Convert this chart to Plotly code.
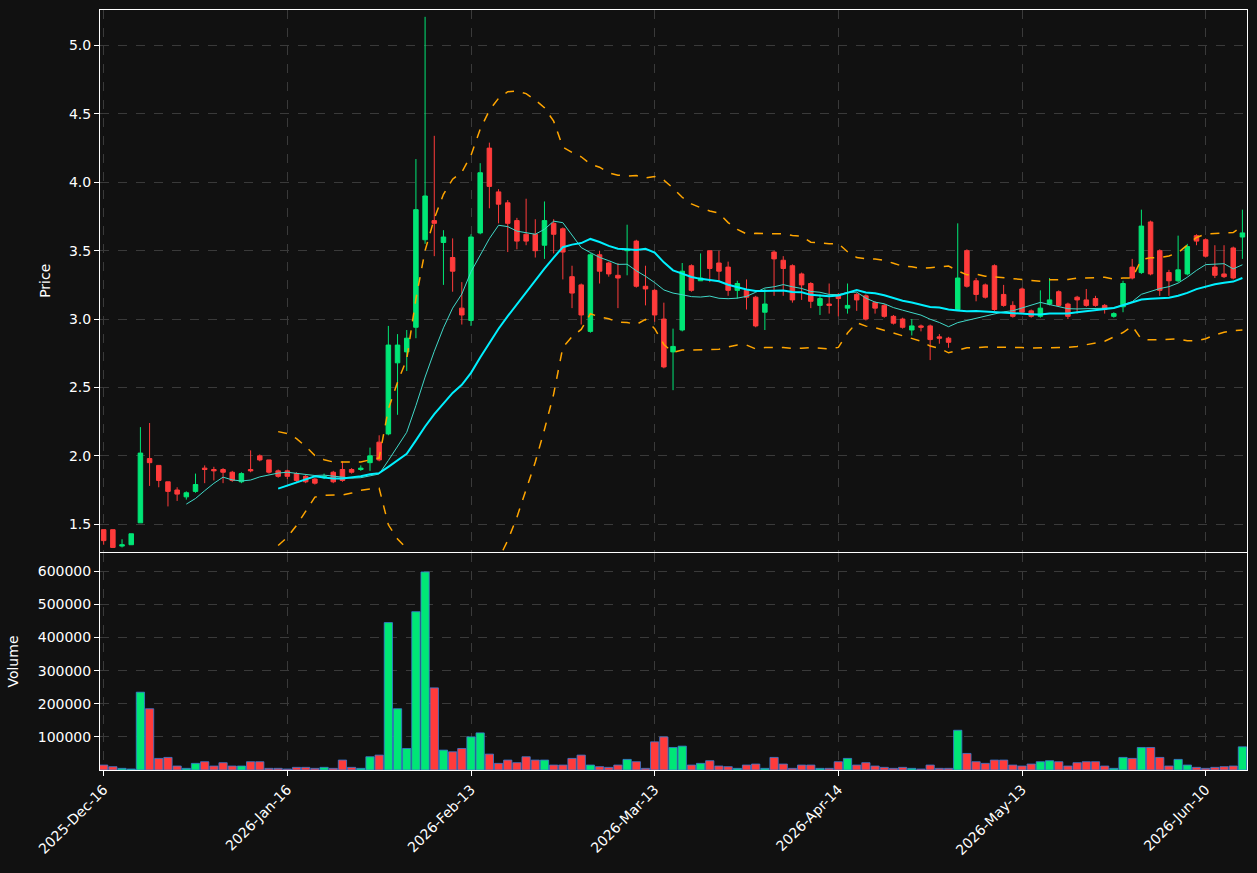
import plotly.graph_objects as go
from plotly.subplots import make_subplots
import pandas as pd

# OHLC per trading day
opens = [1.46, 1.46, 1.34, 1.35, 1.51, 1.98, 1.93, 1.81, 1.75, 1.70,
         1.74, 1.91, 1.90, 1.90, 1.88, 1.81, 1.90, 2.00, 1.97, 1.89,
         1.89, 1.87, 1.85, 1.83, 1.84, 1.88, 1.90, 1.90, 1.90, 1.95,
         2.10, 2.16, 2.68, 2.76, 2.94, 3.58, 3.72, 3.56, 3.45, 3.08,
         2.99, 3.63, 4.25, 3.93, 3.85, 3.72, 3.62, 3.62, 3.54, 3.70,
         3.66, 3.31, 3.25, 2.91, 3.47, 3.41, 3.32, 3.50, 3.57, 3.24,
         3.21, 3.00, 2.76, 2.92, 3.39, 3.28, 3.50, 3.41, 3.38, 3.21,
         3.21, 3.16, 3.05, 3.49, 3.43, 3.39, 3.33, 3.26, 3.10, 3.11,
         3.17, 3.08, 3.18, 3.17, 3.12, 3.10, 3.02, 3.00, 2.92, 2.95,
         2.95, 2.87, 2.86, 3.07, 3.50, 3.28, 3.25, 3.39, 3.18, 3.10,
         3.22, 3.06, 3.02, 3.11, 3.20, 3.11, 3.16, 3.14, 3.15, 3.10,
         3.02, 3.09, 3.38, 3.34, 3.71, 3.50, 3.34, 3.28, 3.33, 3.61,
         3.58, 3.38, 3.33, 3.52, 3.60]
closes = [1.38, 1.33, 1.35, 1.43, 2.02, 1.95, 1.82, 1.74, 1.72, 1.73,
          1.79, 1.90, 1.89, 1.88, 1.82, 1.87, 1.89, 1.97, 1.88, 1.85,
          1.85, 1.82, 1.81, 1.80, 1.85, 1.81, 1.82, 1.88, 1.91, 2.00,
          1.97, 2.81, 2.81, 2.86, 3.80, 3.90, 3.70, 3.60, 3.35, 3.03,
          3.60, 4.07, 3.97, 3.84, 3.70, 3.57, 3.57, 3.50, 3.72, 3.62,
          3.49, 3.19, 3.03, 3.47, 3.35, 3.33, 3.30, 3.51, 3.24, 3.22,
          3.03, 2.65, 2.80, 3.35, 3.21, 3.30, 3.37, 3.35, 3.21, 3.26,
          3.16, 2.95, 3.11, 3.44, 3.37, 3.14, 3.25, 3.13, 3.15, 3.10,
          3.15, 3.10, 3.14, 3.00, 3.08, 3.02, 2.97, 2.94, 2.95, 2.94,
          2.85, 2.86, 2.83, 3.30, 3.24, 3.18, 3.16, 3.07, 3.10, 3.02,
          3.05, 3.02, 3.08, 3.14, 3.10, 3.02, 3.14, 3.10, 3.10, 3.07,
          3.04, 3.26, 3.30, 3.68, 3.33, 3.21, 3.28, 3.36, 3.53, 3.57,
          3.46, 3.32, 3.31, 3.30, 3.63]
highs = [1.46, 1.46, 1.39, 1.43, 2.21, 2.24, 1.93, 1.81, 1.77, 1.74,
         1.87, 1.93, 1.92, 1.91, 1.89, 1.88, 2.04, 2.01, 1.97, 1.90,
         1.90, 1.88, 1.86, 1.84, 1.87, 1.89, 1.96, 1.91, 1.93, 2.06,
         2.15, 2.95, 2.89, 2.92, 4.17, 5.21, 4.34, 3.65, 3.59, 3.27,
         3.62, 4.14, 4.29, 3.95, 3.87, 3.74, 3.88, 3.73, 3.86, 3.73,
         3.67, 3.39, 3.26, 3.48, 3.50, 3.42, 3.41, 3.69, 3.58, 3.39,
         3.22, 3.12, 2.93, 3.41, 3.40, 3.48, 3.50, 3.50, 3.42, 3.28,
         3.29, 3.17, 3.22, 3.50, 3.46, 3.40, 3.34, 3.27, 3.18, 3.26,
         3.19, 3.26, 3.19, 3.18, 3.13, 3.11, 3.03, 3.01, 3.00, 2.96,
         2.96, 2.89, 2.87, 3.70, 3.51, 3.30, 3.26, 3.40, 3.25, 3.13,
         3.23, 3.07, 3.21, 3.30, 3.21, 3.12, 3.17, 3.22, 3.17, 3.11,
         3.05, 3.28, 3.44, 3.80, 3.72, 3.51, 3.36, 3.61, 3.55, 3.62,
         3.59, 3.54, 3.54, 3.53, 3.80]
lows = [1.35, 1.33, 1.33, 1.35, 1.51, 1.78, 1.77, 1.63, 1.67, 1.68,
        1.73, 1.80, 1.82, 1.80, 1.81, 1.80, 1.88, 1.96, 1.87, 1.84,
        1.83, 1.81, 1.80, 1.79, 1.83, 1.80, 1.81, 1.87, 1.89, 1.89,
        1.96, 2.15, 2.30, 2.62, 2.86, 3.55, 3.46, 3.25, 3.20, 2.96,
        2.95, 3.62, 3.81, 3.70, 3.49, 3.51, 3.54, 3.45, 3.44, 3.48,
        3.29, 3.08, 2.96, 2.90, 3.26, 3.31, 3.08, 3.32, 3.23, 3.10,
        2.98, 2.64, 2.48, 2.91, 3.20, 3.28, 3.27, 3.27, 3.17, 3.15,
        3.07, 2.94, 2.92, 3.17, 3.17, 3.12, 3.14, 3.08, 3.03, 3.04,
        3.02, 3.04, 3.06, 2.99, 3.04, 3.01, 2.96, 2.93, 2.88, 2.91,
        2.70, 2.82, 2.79, 3.06, 3.23, 3.13, 3.15, 3.06, 3.09, 3.01,
        3.04, 3.01, 3.01, 3.10, 3.09, 3.00, 3.04, 3.09, 3.09, 3.04,
        3.01, 3.05, 3.29, 3.33, 3.32, 3.17, 3.17, 3.27, 3.32, 3.54,
        3.45, 3.30, 3.30, 3.29, 3.44]
volumes = [15000, 10000, 5000, 3000, 235000, 185000, 35000, 38000, 12000, 5000,
           20000, 25000, 12000, 22000, 12000, 12000, 25000, 25000, 5000, 5000,
           3000, 8000, 8000, 5000, 8000, 5000, 30000, 8000, 5000, 40000,
           45000, 445000, 185000, 65000, 478000, 598000, 248000, 60000, 55000, 65000,
           100000, 112000, 48000, 20000, 30000, 22000, 40000, 30000, 30000, 15000,
           15000, 35000, 45000, 15000, 10000, 8000, 15000, 32000, 25000, 5000,
           85000, 100000, 68000, 72000, 15000, 20000, 28000, 12000, 10000, 5000,
           15000, 18000, 5000, 38000, 18000, 5000, 15000, 15000, 5000, 5000,
           25000, 35000, 15000, 22000, 12000, 8000, 5000, 8000, 5000, 3000,
           15000, 5000, 5000, 120000, 50000, 25000, 20000, 30000, 30000, 15000,
           12000, 18000, 25000, 28000, 25000, 12000, 22000, 25000, 25000, 12000,
           5000, 38000, 35000, 68000, 68000, 38000, 12000, 32000, 15000, 8000,
           5000, 8000, 10000, 12000, 70000]
tick_pos = [0, 20, 40, 60, 80, 100, 120]
tick_labels = ['2025-Dec-16', '2026-Jan-16', '2026-Feb-13', '2026-Mar-13',
               '2026-Apr-14', '2026-May-13', '2026-Jun-10']

GREEN = '#00e676'
RED = '#ff3b3b'

df = pd.DataFrame({'open': opens, 'high': highs, 'low': lows, 'close': closes, 'vol': volumes})
df['ma10'] = df['close'].rolling(10).mean()
df['ma20'] = df['close'].rolling(20).mean()
std20 = df['close'].rolling(20).std(ddof=0)
df['bb_up'] = df['ma20'] + 2 * std20
df['bb_dn'] = df['ma20'] - 2 * std20
x = list(range(len(df)))

fig = make_subplots(rows=2, cols=1, shared_xaxes=True, vertical_spacing=0.002,
                    row_heights=[0.714, 0.286])

fig.add_trace(go.Candlestick(
    x=x, open=df['open'], high=df['high'], low=df['low'], close=df['close'],
    increasing=dict(line=dict(color=GREEN, width=1), fillcolor=GREEN),
    decreasing=dict(line=dict(color=RED, width=1), fillcolor=RED),
    whiskerwidth=0), row=1, col=1)
fig.add_trace(go.Scatter(x=x, y=df['ma10'], mode='lines',
                         line=dict(color='#40d8c8', width=1)), row=1, col=1)
fig.add_trace(go.Scatter(x=x, y=df['ma20'], mode='lines',
                         line=dict(color='#00f0ff', width=2)), row=1, col=1)
for col in ['bb_up', 'bb_dn']:
    fig.add_trace(go.Scatter(x=x, y=df[col], mode='lines',
                             line=dict(color='#ffa500', width=1.5, dash='dash')), row=1, col=1)

vol_colors = [GREEN if c >= o else RED for o, c in zip(opens, closes)]
fig.add_trace(go.Bar(x=x, y=df['vol'], marker=dict(color=vol_colors,
                     line=dict(color='#3a7bd5', width=0.8)), width=0.9), row=2, col=1)

axis_style = dict(showline=True, linecolor='white', linewidth=1, mirror=True,
                  gridcolor='#3a3a3a', griddash='dash', zeroline=False,
                  tickfont=dict(color='white', size=14), ticks='outside', tickcolor='white')
fig.update_xaxes(**axis_style, range=[-0.4, 124.5], rangeslider_visible=False)
fig.update_xaxes(tickvals=tick_pos, ticktext=tick_labels, tickangle=-45, row=2, col=1)
fig.update_yaxes(**axis_style)
fig.update_yaxes(range=[1.3, 5.26], dtick=0.5, tickformat='.1f',
                 title=dict(text='Price', font=dict(color='white', size=14)), row=1, col=1)
fig.update_yaxes(range=[0, 655000], tickformat='d',
                 tickvals=[100000, 200000, 300000, 400000, 500000, 600000],
                 title=dict(text='Volume', font=dict(color='white', size=14)), row=2, col=1)

fig.update_layout(
    width=1257, height=873,
    paper_bgcolor='#111111', plot_bgcolor='#111111',
    font=dict(family='DejaVu Sans', color='white'),
    showlegend=False,
    bargap=0.1,
    margin=dict(t=10, l=100, r=10, b=103)
)

fig.write_html("out.html", config={'displayModeBar': False},
               post_script="document.body.style.margin='0';document.body.style.background='#111111';")
